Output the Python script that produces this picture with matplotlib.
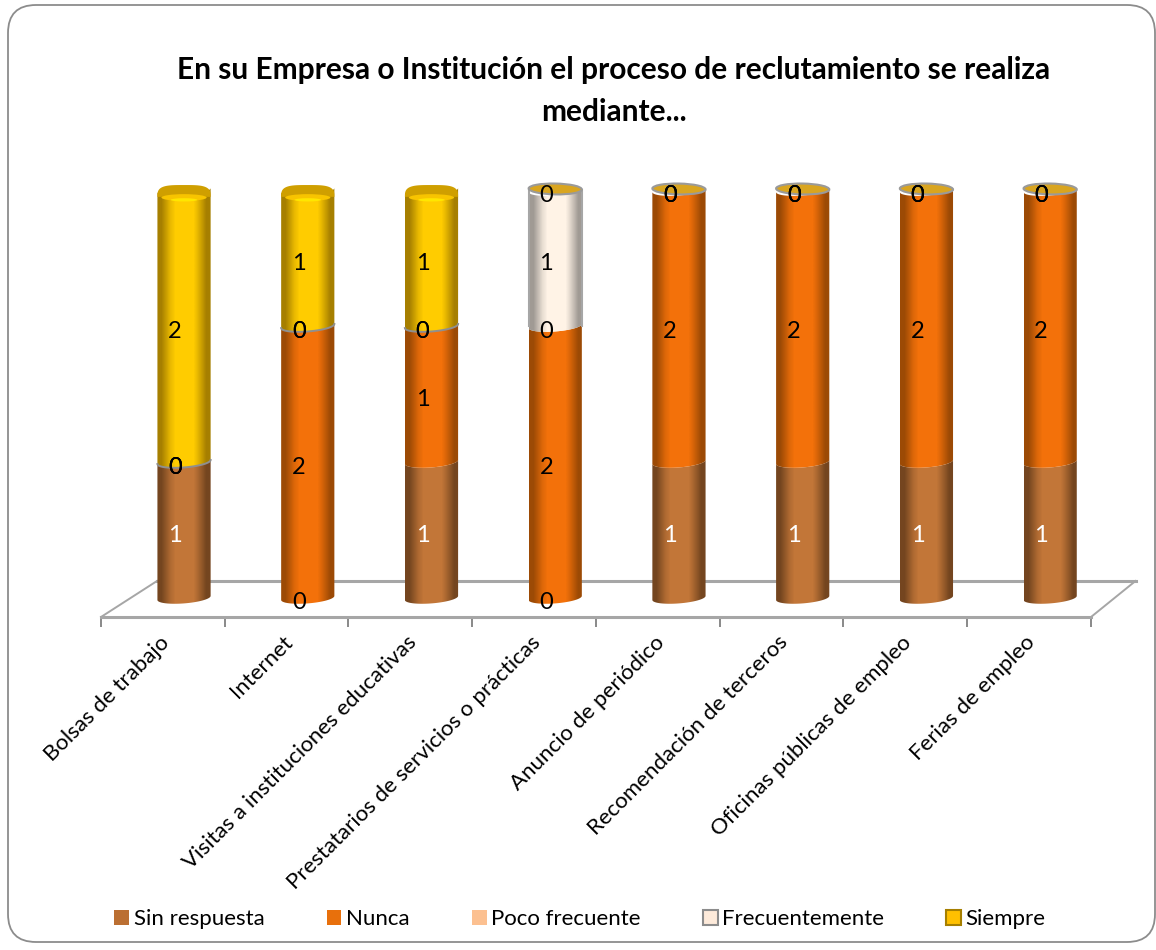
import numpy as np
import matplotlib
matplotlib.use('Agg')
import matplotlib.pyplot as plt
from matplotlib.colors import LinearSegmentedColormap
from matplotlib.patches import FancyBboxPatch, Patch, Polygon, Ellipse

plt.rcParams['font.family'] = ['Lato', 'DejaVu Sans']

titulo = 'En su Empresa o Institución el proceso de reclutamiento se realiza\nmediante...'
categorias = ['Bolsas de trabajo', 'Internet', 'Visitas a instituciones educativas',
              'Prestatarios de servicios o prácticas', 'Anuncio de periódico',
              'Recomendación de terceros', 'Oficinas públicas de empleo', 'Ferias de empleo']
series = ['Sin respuesta', 'Nunca', 'Poco frecuente', 'Frecuentemente', 'Siempre']
sin_respuesta = [1, 0, 1, 0, 1, 1, 1, 1]
nunca = [0, 2, 1, 2, 2, 2, 2, 2]
poco_frecuente = [0, 0, 0, 0, 0, 0, 0, 0]
frecuentemente = [0, 0, 0, 1, 0, 0, 0, 0]
siempre = [2, 1, 1, 0, 0, 0, 0, 0]
valores = [sin_respuesta, nunca, poco_frecuente, frecuentemente, siempre]

# borde, centro y color de leyenda de cada serie
colores = [('#74451f', '#c27638', '#bb6f32'),
           ('#9c4a05', '#f3710a', '#e8700c'),
           ('#c98f60', '#fcc090', '#fcc090'),
           ('#a09a94', '#fff3e6', '#fdeada'),
           ('#a67f00', '#ffcc00', '#ffc000')]

ancho = 0.215   # medio ancho de la barra
alto = 0.04     # semi-eje de la elipse
incl = 0.015


def arco(x, y, ini, fin):
    t = np.linspace(ini, fin, 40)
    return np.column_stack([x + ancho * np.cos(t), y + alto * np.sin(t) + incl * np.cos(t)])


def domo(x, y, h):
    t = np.linspace(0, np.pi, 40)
    c = np.cos(t)
    return np.column_stack([x + ancho * np.sign(c) * np.abs(c) ** 0.55, y + h * np.sin(t) ** 0.6])


fig = plt.figure(figsize=(11.56, 9.5), dpi=100)
fig.patches.append(FancyBboxPatch((8, 8), 1147, 937, boxstyle='round,pad=0,rounding_size=28',
                                  transform=None, fc='white', ec='#8c8c8c', lw=1.3, zorder=-1))

ax = fig.add_axes([101 / 1156, (950 - 617) / 950, 990 / 1156, 437 / 950])
ax.patch.set_alpha(0)

x0, x1 = -0.671, 7.33
y0, y1 = -0.14, 3.074

# piso del grafico
gris = '#a6a6a6'
ax.plot([-0.218, 7.69], [0.125, 0.125], color=gris, lw=2.2, clip_on=False, zorder=1)
ax.plot([x0, -0.218], [y0, 0.125], color=gris, lw=1.4, clip_on=False, zorder=1)
ax.plot([7.69, x1], [0.125, y0], color=gris, lw=1.4, clip_on=False, zorder=1)

acum = np.zeros(len(categorias))
for s, vals in enumerate(valores):
    cmap = LinearSegmentedColormap.from_list('c', [colores[s][0], colores[s][1], colores[s][1], colores[s][0]])
    for i, v in enumerate(vals):
        base = acum[i]
        if v > 0:
            forma = np.vstack([arco(i, base, np.pi, 2 * np.pi), arco(i, base + v, 0, -np.pi)])
            im = ax.imshow(np.array([[0, 0.25, 0.4, 0.55, 0.75, 1]]), cmap=cmap, aspect='auto',
                           extent=(i - ancho, i + ancho, base - 0.08, base + v + 0.08), zorder=3 + s,
                           interpolation='bilinear')
            im.set_clip_path(Polygon(forma, transform=ax.transData))
            if s == 3:
                ax.plot([i - ancho, i - ancho], [base, base + v], color=gris, lw=1.5, zorder=3 + s)
                ax.plot([i + ancho, i + ancho], [base, base + v], color=gris, lw=1.5, zorder=3 + s)
        # Frecuentemente deja una linea gris aunque valga cero
        if s == 3 and base + v < 3:
            a = arco(i, base + v, np.pi, 2 * np.pi)
            ax.plot(a[:, 0], a[:, 1], color='#8f8f8f', lw=1.4, zorder=9)
    acum = acum + np.array(vals)

# tapa superior
for i, v in enumerate(siempre):
    tope = acum[i]
    if v > 0:
        ax.add_patch(Polygon(domo(i, tope - 0.05, 0.087), fc='#cf9f00', ec='none', zorder=10))
        ax.add_patch(Ellipse((i, tope - 0.055), 1.7 * ancho, 0.05, fc='#f8c400', ec='none', zorder=11))
        ax.add_patch(Ellipse((i, tope - 0.072), ancho, 0.024, fc='#ffe600', ec='none', zorder=12))
    else:
        ax.add_patch(Ellipse((i, tope + 0.008), 2 * ancho, 2 * alto, angle=-1, fc='#d9a520', ec='#9a9a9a',
                             lw=1.5, zorder=10))

# etiquetas de datos
acum = np.zeros(len(categorias))
for s, vals in enumerate(valores):
    for i, v in enumerate(vals):
        color = 'white' if s == 0 and v > 0 else 'black'
        ax.text(i - 0.073, acum[i] + v / 2 - 0.037, str(v), ha='center', va='center',
                fontsize=17, color=color, zorder=20)
    acum = acum + np.array(vals)

ax.set_xlim(x0, x1)
ax.set_ylim(y0, y1)
ax.set_yticks([])
for lado in ['top', 'left', 'right']:
    ax.spines[lado].set_visible(False)
ax.spines['bottom'].set_color(gris)
ax.spines['bottom'].set_linewidth(2.2)
ax.set_xticks(np.arange(len(categorias) + 1) + x0)
ax.set_xticklabels([])
ax.tick_params(axis='x', which='major', length=7, width=1.3, color='#808080')
ax.set_xticks(np.arange(len(categorias)) - 0.202, minor=True)
ax.set_xticklabels(categorias, minor=True, rotation=45, ha='right', rotation_mode='anchor', fontsize=16)
ax.tick_params(axis='x', which='minor', length=0, pad=11)

fig.text(614 / 1156, 1 - 91 / 950, titulo, ha='center', va='center', fontsize=21.5, fontweight='bold',
         linespacing=1.6)

marcas = [Patch(fc=colores[s][2], ec={3: '#8c8c8c', 4: '#a67f00'}.get(s, 'none'), lw=1.5) for s in range(5)]
fig.legend(marcas, series, loc='center', bbox_to_anchor=(580 / 1156, 1 - 919 / 950), ncol=5, frameon=False,
           fontsize=16, handlelength=0.67, handleheight=0.67, handletextpad=0.2, columnspacing=2.8)

fig.savefig('out.png', dpi=100)
